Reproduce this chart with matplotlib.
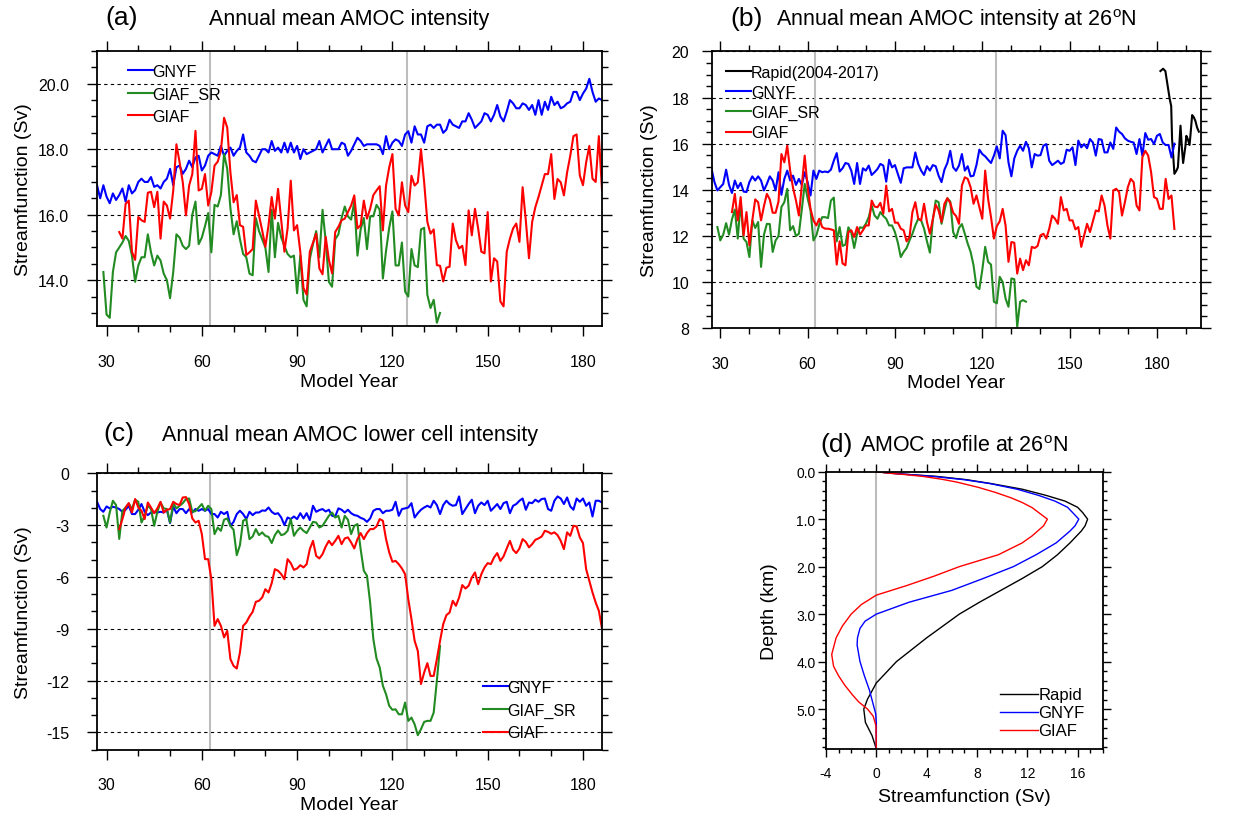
import matplotlib.pyplot as plt
import numpy as np
from matplotlib.ticker import MultipleLocator, FormatStrFormatter

plt.rcParams['font.family'] = ['Liberation Sans', 'DejaVu Sans']
plt.rcParams['mathtext.fontset'] = 'custom'
plt.rcParams['mathtext.rm'] = 'Liberation Sans'
plt.rcParams['axes.unicode_minus'] = False

###############################################################################
# data
###############################################################################

# (a) annual mean AMOC intensity
gnyf_a_start = 27
gnyf_a = [16.9, 16.5, 16.9, 16.55, 16.35, 16.65, 16.45, 16.6, 16.8, 16.4,
          16.9, 16.65, 16.75, 17.0, 17.1, 17.0, 17.0, 17.15, 16.85, 16.9,
          16.8, 17.0, 17.1, 17.4, 16.9, 17.45, 17.5, 17.25, 17.4, 17.65,
          17.45, 17.75, 17.8, 17.35, 17.5, 17.8, 17.9, 17.85, 17.8, 18.1,
          17.8, 17.95, 18.05, 17.8, 17.95, 18.05, 18.45, 17.9, 17.8, 17.65,
          17.6, 17.8, 18.0, 18.0, 17.9, 18.25, 17.95, 18.05, 17.9, 18.2,
          17.9, 18.2, 17.9, 18.1, 17.7, 18.0, 17.85, 17.9, 17.95, 18.0,
          18.25, 17.9, 18.1, 18.3, 18.0, 18.0, 18.0, 18.2, 18.15, 17.8,
          17.95, 18.15, 18.35, 18.25, 18.1, 18.15, 18.15, 18.15, 18.15, 18.1,
          17.85, 18.4, 18.0, 18.2, 18.3, 18.25, 18.1, 18.45, 18.55, 18.2,
          18.7, 18.45, 18.45, 18.2, 18.7, 18.75, 18.65, 18.75, 18.75, 18.5,
          18.6, 18.9, 18.75, 18.7, 18.65, 18.85, 18.85, 19.1, 18.9, 18.65,
          18.75, 18.85, 19.1, 19.05, 18.85, 19.05, 19.35, 19.0, 18.85, 19.15,
          19.5, 19.4, 19.25, 19.25, 19.4, 19.35, 19.2, 19.35, 19.05, 19.5,
          19.05, 19.45, 19.2, 19.6, 19.35, 19.45, 19.25, 19.3, 19.4, 19.45,
          19.75, 19.75, 19.5, 19.7, 19.85, 20.15, 19.75, 19.45, 19.55, 19.5]

giafsr_a_start = 29
giafsr_a = [14.25, 12.95, 12.85, 14.25, 14.85, 15.0, 15.15, 15.35, 15.2, 14.75,
            13.95, 14.45, 14.7, 14.7, 15.4, 14.85, 14.45, 14.75, 14.6, 14.2,
            14.0, 13.45, 14.25, 15.4, 15.3, 15.05, 14.95, 15.05, 16.0, 16.4,
            15.1, 15.3, 15.65, 16.05, 14.85, 16.3, 16.25, 16.6, 17.85, 17.4,
            16.2, 15.4, 15.8, 15.25, 14.8, 14.7, 14.2, 14.15, 15.9, 15.5,
            15.25, 15.0, 14.25, 16.15, 14.7, 15.75, 15.3, 15.05, 14.8, 14.7,
            14.75, 13.6, 14.75, 13.4, 13.2, 14.65, 15.1, 15.5, 14.7, 16.15,
            15.2, 13.95, 13.8, 15.25, 15.4, 15.9, 16.25, 15.95, 15.85, 16.4,
            14.75, 15.55, 15.9, 14.95, 15.95, 15.95, 16.3, 16.15, 14.05, 14.9,
            15.6, 16.1, 14.45, 14.45, 15.15, 13.65, 13.5, 14.95, 14.45, 14.4,
            15.55, 15.6, 13.55, 13.15, 13.4, 12.7, 13.0]

giaf_a_start = 34
giaf_a = [15.47, 15.27, 16.33, 16.43, 14.87, 14.62, 15.93, 15.83, 15.78, 16.67,
          16.7, 16.23, 16.7, 15.27, 16.4, 16.28, 15.88, 16.74, 18.15, 17.6,
          16.99, 15.98, 16.89, 17.24, 18.56, 16.74, 16.79, 17.24, 16.28, 16.69,
          17.5, 17.62, 17.95, 18.96, 18.66, 17.29, 16.38, 16.6, 15.68, 15.63,
          14.77, 14.85, 14.95, 16.43, 15.98, 15.52, 15.02, 15.68, 16.54, 15.88,
          16.79, 15.83, 14.87, 15.58, 17.04, 15.52, 15.68, 14.87, 13.76, 13.56,
          14.87, 15.15, 15.42, 14.36, 14.18, 15.32, 14.62, 14.21, 15.47, 15.63,
          15.83, 15.88, 16.08, 16.28, 16.59, 15.58, 15.68, 16.43, 15.88, 16.18,
          16.6, 16.74, 16.87, 15.52, 16.89, 17.45, 17.85, 16.18, 15.98, 16.99,
          16.28, 16.08, 17.19, 16.89, 16.99, 18.0, 16.99, 15.78, 15.42, 15.55,
          14.46, 14.44, 13.96, 14.38, 14.41, 15.73, 15.22, 14.97, 15.05, 14.46,
          16.13, 15.37, 16.18, 15.58, 14.87, 14.82, 16.08, 13.96, 14.67, 14.57,
          13.35, 13.2, 14.87, 15.27, 15.58, 15.73, 15.17, 16.84, 15.83, 14.67,
          15.78, 16.23, 16.54, 16.89, 17.24, 17.24, 17.85, 16.48, 17.09, 16.99,
          16.59, 17.29, 17.8, 18.4, 18.45, 17.2, 16.9, 17.6, 18.1, 17.1,
          17.0, 18.4, 16.74]

# (b) annual mean AMOC intensity at 26N
gnyf_b_start = 27
gnyf_b = [14.9, 14.33, 13.97, 14.11, 14.25, 14.87, 14.21, 13.86, 14.4, 14.07,
          14.3, 13.92, 13.9, 14.33, 14.58, 14.4, 14.58, 14.4, 13.97, 14.25,
          14.58, 14.4, 13.97, 14.76, 13.78, 14.47, 14.83, 14.4, 14.61, 14.21,
          14.47, 14.21, 14.76, 14.33, 13.75, 14.83, 14.47, 14.83, 14.76, 14.79,
          14.76, 14.87, 15.26, 15.59, 14.79, 14.93, 15.16, 15.12, 14.83, 14.25,
          15.16, 14.25, 14.93, 14.83, 15.05, 14.64, 14.76, 14.9, 15.12, 15.05,
          14.35, 15.3, 14.97, 15.07, 14.69, 14.3, 14.93, 14.97, 14.97, 14.97,
          15.62, 15.12, 14.83, 14.64, 15.02, 14.83, 15.07, 15.02, 14.61, 14.33,
          14.87, 15.16, 15.69, 14.97, 14.82, 15.05, 15.55, 14.83, 15.02, 14.58,
          14.61, 15.07, 15.74, 15.55, 15.45, 15.3, 15.16, 15.48, 15.88, 15.36,
          16.56, 16.37, 15.19, 14.58, 15.36, 15.69, 15.91, 15.69, 16.08, 15.8,
          14.97, 15.55, 15.48, 15.5, 15.91, 15.98, 15.26, 15.07, 15.16, 15.26,
          15.12, 15.19, 15.74, 15.69, 15.84, 15.07, 16.13, 15.84, 15.98, 15.8,
          16.2, 16.05, 15.48, 16.2, 16.17, 15.62, 15.62, 16.05, 15.77, 16.7,
          16.52, 16.42, 16.23, 16.13, 16.08, 16.05, 15.55, 16.2, 15.48, 16.46,
          16.17, 16.2, 15.98, 16.34, 16.42, 16.05, 15.94, 15.94, 15.4, 16.0]

giafsr_b_start = 29
giafsr_b = [12.38, 11.8, 12.05, 12.55, 12.05, 12.71, 13.14, 11.88, 13.46, 11.88,
            11.73, 11.08, 12.67, 12.34, 12.6, 10.65, 12.05, 12.52, 12.51, 11.3,
            11.8, 11.99, 13.25, 13.46, 14.04, 12.24, 12.42, 11.99, 12.09, 13.14,
            14.25, 13.63, 13.1, 11.8, 12.02, 12.48, 12.81, 12.81, 12.77, 13.53,
            13.66, 11.76, 12.38, 11.56, 11.62, 12.37, 12.14, 11.47, 12.09, 12.37,
            12.34, 12.52, 12.81, 13.32, 12.88, 12.74, 13.03, 12.86, 12.74, 12.45,
            12.45, 12.16, 11.7, 11.08, 11.3, 11.47, 11.8, 12.09, 12.45, 12.74,
            12.67, 12.31, 11.76, 11.27, 12.67, 13.53, 13.46, 12.52, 13.1, 13.63,
            13.49, 12.16, 11.9, 12.34, 12.51, 12.09, 11.66, 11.3, 10.72, 9.79,
            9.69, 10.51, 11.52, 10.87, 10.75, 9.14, 9.07, 10.22, 10.0, 9.28,
            8.92, 10.15, 10.12, 8.05, 9.14, 9.21, 9.14]

giaf_b_start = 34
giaf_b = [13.03, 13.82, 12.67, 13.68, 12.02, 13.03, 11.59, 12.67, 13.58, 13.46,
          12.67, 13.29, 13.82, 13.58, 13.0, 13.0, 13.49, 15.55, 15.19, 15.91,
          14.83, 14.07, 13.53, 12.88, 14.18, 15.48, 14.11, 13.17, 12.67, 12.45,
          12.74, 12.38, 12.31, 12.31, 12.28, 12.24, 10.75, 11.76, 10.8, 10.72,
          12.16, 12.24, 11.95, 12.38, 12.05, 12.24, 12.45, 12.45, 13.53, 13.27,
          13.24, 13.43, 12.96, 14.18, 13.06, 13.17, 12.57, 12.57, 12.31, 12.24,
          11.76, 11.95, 13.03, 13.46, 12.74, 12.67, 13.39, 12.6, 12.09, 12.71,
          13.35, 13.1, 12.6, 13.39, 13.63, 13.43, 13.0, 12.86, 12.52, 14.18,
          14.54, 14.47, 14.11, 13.39, 13.75, 13.24, 12.74, 14.83, 13.6, 12.81,
          11.88, 12.42, 12.63, 13.17, 12.45, 10.87, 11.73, 11.7, 10.36, 11.01,
          10.51, 10.94, 10.72, 11.52, 11.47, 11.56, 12.02, 12.09, 11.88, 12.31,
          12.88, 12.74, 12.52, 13.68, 13.1, 13.17, 12.67, 12.67, 12.28, 12.38,
          11.52, 12.02, 12.52, 12.16, 12.63, 13.1, 13.06, 13.75, 13.32, 12.45,
          11.88, 13.97, 14.04, 13.9, 12.88, 13.46, 14.11, 14.47, 14.33, 13.32,
          13.1, 15.41, 15.69, 15.48, 14.76, 13.68, 13.61, 13.17, 13.17, 14.47,
          13.6, 13.75, 12.3]

rapid_year = [181.2, 182.1, 182.9, 183.7, 184.4, 184.9, 185.2, 185.6, 186.0,
              186.7, 187.2, 187.6, 188.1, 188.6, 189.0, 189.8, 190.1, 190.6,
              191.2, 191.5, 192.1, 192.7, 193.2, 193.8, 194.4]
rapid_sv = [19.15, 19.25, 19.15, 18.5, 17.93, 17.64, 16.2, 15.48, 14.69,
            14.83, 14.97, 15.77, 16.78, 15.77, 15.16, 15.91, 16.34, 16.2,
            15.94, 16.34, 17.24, 17.14, 16.99, 16.7, 16.52]

# (c) annual mean AMOC lower cell intensity
gnyf_c_start = 27
gnyf_c = [-1.65, -2.07, -2.23, -1.92, -2.03, -1.94, -1.98, -2.07, -2.23, -2.11,
          -1.88, -2.36, -2.36, -2.11, -1.78, -2.23, -2.42, -2.27, -2.23, -2.27,
          -2.23, -2.27, -2.11, -2.88, -1.92, -2.31, -2.07, -2.07, -2.31, -2.07,
          -2.27, -2.07, -2.17, -2.07, -2.17, -2.07, -2.36, -2.36, -2.56, -2.23,
          -2.36, -2.23, -3.04, -2.81, -2.36, -2.17, -2.36, -2.65, -2.23, -2.42,
          -2.27, -2.27, -2.15, -2.17, -1.98, -2.23, -2.36, -2.31, -2.56, -3.0,
          -2.56, -2.65, -2.5, -2.65, -2.31, -2.61, -2.31, -2.71, -1.88, -2.23,
          -2.13, -2.07, -2.21, -2.11, -2.46, -2.5, -2.03, -2.11, -2.27, -2.11,
          -2.31, -2.42, -2.46, -2.58, -2.65, -2.81, -2.61, -2.17, -2.07, -2.07,
          -2.31, -2.17, -2.17, -2.11, -1.65, -2.46, -2.07, -2.03, -1.98, -1.73,
          -2.56, -2.31, -2.11, -1.98, -1.88, -1.98, -1.59, -1.84, -2.36, -1.84,
          -1.59, -1.78, -1.88, -1.84, -1.34, -2.36, -2.07, -1.78, -1.53, -2.31,
          -1.88, -1.69, -1.84, -1.59, -2.17, -1.98, -1.78, -2.07, -1.73, -1.65,
          -2.31, -1.88, -1.78, -1.59, -1.46, -2.11, -1.69, -1.73, -1.53, -1.65,
          -1.49, -1.46, -2.07, -2.17, -1.59, -1.34, -1.46, -1.78, -1.4, -1.92,
          -2.11, -1.46, -1.65, -1.46, -1.88, -1.69, -2.5, -1.59, -1.59, -1.69]

giafsr_c_start = 29
giafsr_c = [-2.46, -3.14, -2.27, -1.59, -1.84, -3.8, -2.17, -1.98, -1.75, -2.07,
            -1.53, -1.65, -2.85, -2.46, -1.88, -2.07, -3.04, -2.23, -1.69, -2.03,
            -2.07, -2.85, -1.73, -2.03, -1.88, -1.73, -1.49, -1.46, -2.23, -2.19,
            -1.98, -1.78, -2.17, -1.88, -2.07, -3.52, -3.14, -3.33, -2.69, -2.61,
            -3.04, -3.27, -4.74, -4.16, -2.75, -2.65, -3.81, -3.66, -3.23, -3.58,
            -3.42, -3.62, -3.68, -4.04, -3.58, -3.31, -3.58, -3.52, -3.33, -2.65,
            -3.62, -3.33, -3.14, -3.33, -3.46, -3.14, -2.81, -2.85, -3.14, -3.04,
            -2.75, -2.46, -2.27, -2.56, -2.46, -3.14, -2.46, -2.69, -3.52, -3.04,
            -2.94, -4.39, -5.64, -5.93, -7.5, -9.6, -10.72, -11.24, -12.3, -12.79,
            -13.46, -13.69, -13.66, -13.95, -13.95, -13.27, -14.33, -14.14, -14.53, -15.16,
            -14.81, -14.39, -14.33, -14.33, -13.85, -12.0, -10.0]

giaf_c_start = 34
giaf_c = [-3.23, -2.65, -1.98, -1.73, -2.27, -1.49, -1.98, -2.17, -2.65, -1.69,
          -1.98, -2.31, -2.03, -1.65, -2.27, -2.11, -2.07, -1.65, -1.78, -1.84,
          -1.4, -1.38, -1.78, -2.61, -2.85, -2.75, -3.52, -4.97, -4.97, -6.13,
          -8.83, -8.44, -8.83, -9.5, -9.12, -10.76, -11.15, -11.3, -10.37, -8.83,
          -8.64, -8.29, -8.02, -7.44, -7.38, -7.19, -6.71, -6.9, -6.36, -5.55,
          -5.64, -5.84, -6.13, -4.97, -5.2, -5.59, -5.51, -5.32, -5.45, -5.26,
          -4.39, -3.91, -4.78, -4.93, -4.68, -4.24, -3.91, -4.16, -3.91, -3.62,
          -4.1, -3.77, -3.71, -4.0, -4.35, -3.81, -3.46, -3.81, -3.46, -3.23,
          -3.23, -3.08, -2.65, -2.75, -3.81, -4.58, -5.12, -5.07, -5.26, -5.51,
          -5.84, -7.29, -8.44, -9.7, -10.28, -12.2, -11.53, -10.99, -11.73, -11.73,
          -10.76, -9.7, -8.73, -8.21, -8.06, -7.38, -7.67, -7.19, -6.47, -6.67,
          -6.51, -6.03, -5.74, -6.42, -5.84, -5.45, -5.2, -5.26, -4.87, -4.62,
          -5.07, -4.81, -4.35, -3.91, -4.43, -4.62, -4.35, -3.81, -3.97, -4.29,
          -4.1, -3.85, -3.77, -3.66, -3.33, -3.39, -3.5, -3.42, -3.58, -3.91,
          -4.39, -3.42, -3.62, -3.04, -3.08, -3.71, -4.04, -5.55, -6.22, -6.9,
          -7.48, -7.96, -9.0]

ref_years = [62.6, 124.7]

# (d) AMOC profile at 26N (depth in km, streamfunction in Sv)
rapid_depth = [0.0, 0.03, 0.06, 0.1, 0.17, 0.25, 0.37, 0.5, 0.62, 0.75, 0.86, 1.0,
               1.14, 1.25, 1.5, 1.75, 2.0, 2.25, 2.5, 2.75, 3.0, 3.25, 3.5, 4.0,
               4.45, 4.79, 5.0, 5.28, 5.56, 5.84]
rapid_prof = [0.0, 1.0, 2.6, 4.8, 7.2, 9.1, 11.6, 13.5, 15.0, 16.0, 16.4, 16.8,
              16.6, 16.3, 15.4, 14.4, 13.2, 11.6, 9.9, 8.2, 6.6, 5.3, 4.0, 1.6,
              0.0, -0.7, -1.0, -0.87, -0.34, 0.0]
gnyf_depth = [0.0, 0.03, 0.06, 0.1, 0.17, 0.25, 0.37, 0.5, 0.62, 0.75, 0.86, 1.0,
              1.14, 1.25, 1.5, 1.75, 2.0, 2.25, 2.5, 2.75, 3.0, 3.15, 3.3, 3.5,
              3.65, 4.0, 4.3, 4.6, 4.9, 5.1, 5.3, 5.84]
gnyf_prof = [0.0, 1.0, 2.5, 4.5, 7.0, 9.0, 11.2, 12.9, 14.2, 15.2, 15.6, 16.1,
             15.8, 15.4, 14.3, 12.7, 10.9, 8.5, 6.0, 2.6, 0.0, -0.9, -1.3, -1.5,
             -1.53, -1.3, -0.95, -0.55, -0.25, -0.05, 0.0, 0.0]
giaf_depth = [0.0, 0.03, 0.06, 0.1, 0.16, 0.22, 0.33, 0.44, 0.55, 0.65, 0.76, 0.86,
              1.0, 1.14, 1.35, 1.5, 1.75, 2.0, 2.2, 2.4, 2.6, 2.8, 3.0, 3.25, 3.5,
              3.85, 4.1, 4.3, 4.5, 4.7, 4.85, 5.0, 5.15, 5.35, 5.84]
giaf_prof = [0.0, 0.9, 2.2, 3.7, 5.2, 6.4, 8.1, 9.5, 10.7, 11.6, 12.4, 12.9,
             13.6, 13.3, 12.4, 11.6, 9.7, 6.6, 4.6, 2.4, 0.0, -1.2, -2.0, -2.7,
             -3.2, -3.55, -3.4, -3.0, -2.5, -1.9, -1.4, -0.7, -0.25, -0.03, 0.0]

###############################################################################

def years(start, vals):
    return np.arange(start, start + len(vals))

def style(ax, xpad=13, ypad=13, size=11.5, major=7, minor=4):
    ax.tick_params(which='both', direction='out', top=True, right=True, width=1.0)
    ax.tick_params(which='major', length=major, labelsize=size)
    ax.tick_params(which='minor', length=minor)
    ax.tick_params(axis='x', pad=xpad)
    ax.tick_params(axis='y', pad=ypad)
    for s in ax.spines.values():
        s.set_linewidth(1.3)

def grid_lines(ax):
    ax.yaxis.grid(True, which='major', linestyle=(0, (3, 3)), color='black', lw=0.8)
    ax.set_axisbelow(True)

blue = '#0000ff'
green = '#228b22'
red = '#ff0000'
lw = 1.5
title_size = 15.5
label_size = 19

fig = plt.figure(figsize=(12.39, 8.2), dpi=100)
ax1 = fig.add_axes([0.0783, 0.6012, 0.4076, 0.3354])
ax2 = fig.add_axes([0.5743, 0.5988, 0.3947, 0.3372])
ax3 = fig.add_axes([0.0783, 0.0845, 0.4076, 0.3371])
ax4 = fig.add_axes([0.6667, 0.0854, 0.2233, 0.3382])

# ----- (a)
for yr in ref_years:
    ax1.axvline(yr, color='#bdbdbd', lw=1.5, zorder=1)
ax1.plot(years(gnyf_a_start, gnyf_a), gnyf_a, color=blue, lw=lw, label='GNYF')
ax1.plot(years(giafsr_a_start, giafsr_a), giafsr_a, color=green, lw=lw, label='GIAF_SR')
ax1.plot(years(giaf_a_start, giaf_a), giaf_a, color=red, lw=lw, label='GIAF')
ax1.set_xlim(27, 186)
ax1.set_ylim(12.6, 21.0)
ax1.xaxis.set_major_locator(MultipleLocator(30))
ax1.xaxis.set_minor_locator(MultipleLocator(10))
ax1.yaxis.set_major_locator(MultipleLocator(2))
ax1.yaxis.set_minor_locator(MultipleLocator(0.5))
ax1.yaxis.set_major_formatter(FormatStrFormatter('%.1f'))
grid_lines(ax1)
style(ax1)
ax1.set_xlabel('Model Year', fontsize=14)
ax1.set_ylabel('Streamfunction (Sv)', fontsize=14)
ax1.xaxis.set_label_coords(0.5, -0.172)
ax1.yaxis.set_label_coords(-0.1287, 0.5)
ax1.legend(loc='upper left', bbox_to_anchor=(0.061, 0.953), frameon=False, fontsize=11.5,
           handlelength=1.55, handletextpad=0.0, labelspacing=0.47, borderpad=0,
           borderaxespad=0)
ax1.text(0.016, 1.098, '(a)', transform=ax1.transAxes, fontsize=label_size, va='baseline')
ax1.text(0.5, 1.098, 'Annual mean AMOC intensity', transform=ax1.transAxes,
         fontsize=title_size, ha='center', va='baseline')

# ----- (b)
for yr in ref_years:
    ax2.axvline(yr, color='#bdbdbd', lw=1.5, zorder=1)
ax2.plot(rapid_year, rapid_sv, color='black', lw=lw, label='Rapid(2004-2017)')
ax2.plot(years(gnyf_b_start, gnyf_b), gnyf_b, color=blue, lw=lw, label='GNYF')
ax2.plot(years(giafsr_b_start, giafsr_b), giafsr_b, color=green, lw=lw, label='GIAF_SR')
ax2.plot(years(giaf_b_start, giaf_b), giaf_b, color=red, lw=lw, label='GIAF')
ax2.set_xlim(27, 195)
ax2.set_ylim(8, 20)
ax2.xaxis.set_major_locator(MultipleLocator(30))
ax2.xaxis.set_minor_locator(MultipleLocator(10))
ax2.yaxis.set_major_locator(MultipleLocator(2))
ax2.yaxis.set_minor_locator(MultipleLocator(0.5))
grid_lines(ax2)
style(ax2, ypad=9)
ax2.set_xlabel('Model Year', fontsize=14)
ax2.set_ylabel('Streamfunction (Sv)', fontsize=14)
ax2.xaxis.set_label_coords(0.5, -0.168)
ax2.yaxis.set_label_coords(-0.1094, 0.5)
ax2.legend(loc='upper left', bbox_to_anchor=(0.03, 0.952), frameon=False, fontsize=11.5,
           handlelength=1.55, handletextpad=0.0, labelspacing=0.32, borderpad=0,
           borderaxespad=0)
ax2.text(0.038, 1.096, '(b)', transform=ax2.transAxes, fontsize=label_size, va='baseline')
ax2.text(0.5, 1.096, r'Annual mean AMOC intensity at 26$^{\rm o}$N',
         transform=ax2.transAxes, fontsize=title_size, ha='center', va='baseline')

# ----- (c)
for yr in ref_years:
    ax3.axvline(yr, color='#bdbdbd', lw=1.5, zorder=1)
ax3.plot(years(gnyf_c_start, gnyf_c), gnyf_c, color=blue, lw=lw, label='GNYF')
ax3.plot(years(giafsr_c_start, giafsr_c), giafsr_c, color=green, lw=lw, label='GIAF_SR')
ax3.plot(years(giaf_c_start, giaf_c), giaf_c, color=red, lw=lw, label='GIAF')
ax3.set_xlim(27, 186)
ax3.set_ylim(-16, 0)
ax3.xaxis.set_major_locator(MultipleLocator(30))
ax3.xaxis.set_minor_locator(MultipleLocator(10))
ax3.yaxis.set_major_locator(MultipleLocator(3))
ax3.yaxis.set_minor_locator(MultipleLocator(1))
grid_lines(ax3)
style(ax3)
ax3.set_xlabel('Model Year', fontsize=14)
ax3.set_ylabel('Streamfunction (Sv)', fontsize=14)
ax3.xaxis.set_label_coords(0.5, -0.168)
ax3.yaxis.set_label_coords(-0.1287, 0.5)
ax3.legend(loc='upper left', bbox_to_anchor=(0.764, 0.252), frameon=False, fontsize=11.5,
           handlelength=1.55, handletextpad=0.0, labelspacing=0.47, borderpad=0,
           borderaxespad=0)
ax3.text(0.012, 1.119, '(c)', transform=ax3.transAxes, fontsize=label_size, va='baseline')
ax3.text(0.5, 1.119, 'Annual mean AMOC lower cell intensity', transform=ax3.transAxes,
         fontsize=title_size, ha='center', va='baseline')

# ----- (d)
ax4.axvline(0, color='#bdbdbd', lw=1.5, zorder=1)
ax4.plot(rapid_prof, rapid_depth, color='black', lw=1.0, label='Rapid')
ax4.plot(gnyf_prof, gnyf_depth, color=blue, lw=1.0, label='GNYF')
ax4.plot(giaf_prof, giaf_depth, color=red, lw=1.0, label='GIAF')
ax4.set_xlim(-4, 18)
ax4.set_ylim(5.84, 0)
ax4.xaxis.set_major_locator(MultipleLocator(4))
ax4.xaxis.set_minor_locator(MultipleLocator(1))
ax4.yaxis.set_major_locator(MultipleLocator(1))
ax4.yaxis.set_minor_locator(MultipleLocator(0.2))
ax4.yaxis.set_major_formatter(FormatStrFormatter('%.1f'))
style(ax4, xpad=7, ypad=2, size=10, major=5.5, minor=3)
ax4.set_xlabel('Streamfunction (Sv)', fontsize=14)
ax4.set_ylabel('Depth (km)', fontsize=14)
ax4.xaxis.set_label_coords(0.5, -0.14)
ax4.yaxis.set_label_coords(-0.1735, 0.5)
ax4.legend(loc='upper left', bbox_to_anchor=(0.629, 0.222), frameon=False, fontsize=12,
           handlelength=2.3, handletextpad=0.0, labelspacing=0.18, borderpad=0,
           borderaxespad=0)
ax4.text(-0.02, 1.076, '(d)', transform=ax4.transAxes, fontsize=label_size, va='baseline')
ax4.text(0.5, 1.076, r'AMOC profile at 26$^{\rm o}$N', transform=ax4.transAxes,
         fontsize=title_size, ha='center', va='baseline')

fig.savefig('out.png', dpi=100)
